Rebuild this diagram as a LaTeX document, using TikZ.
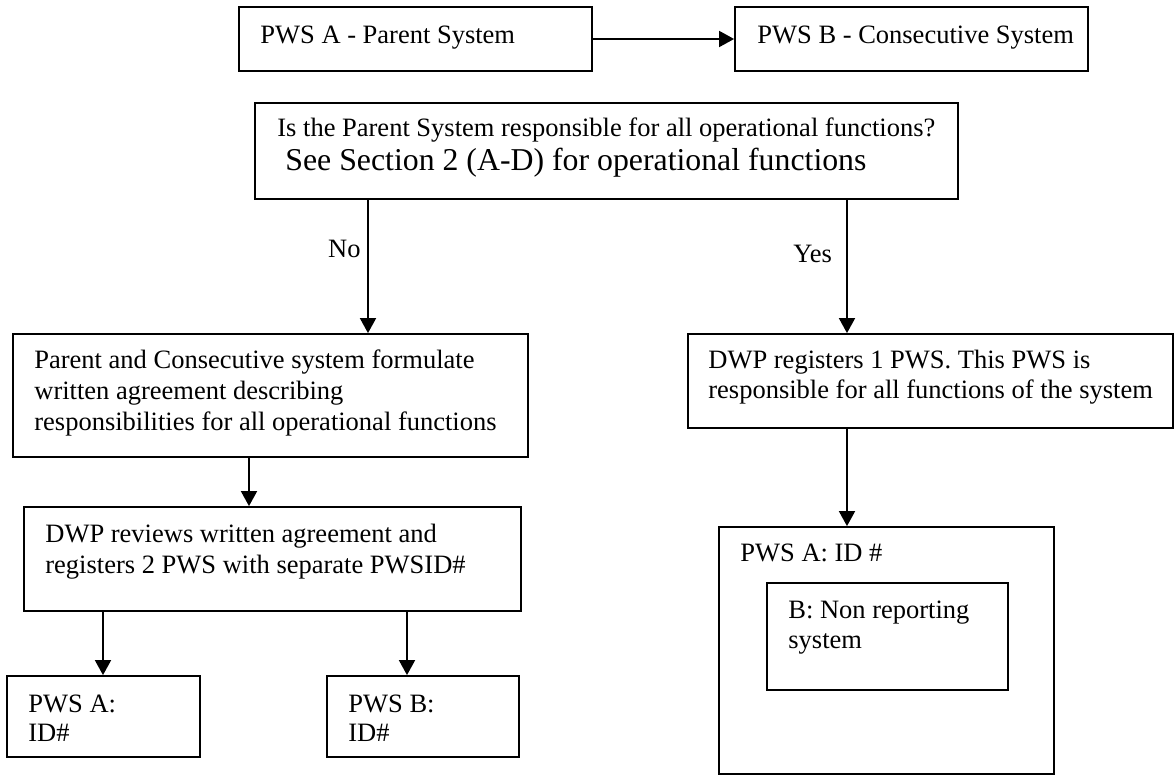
\documentclass[tikz,border=0pt]{standalone}
\usepackage{fontspec}
\setmainfont{Liberation Serif}
\usetikzlibrary{arrows.meta,fit}
\begin{document}
\begin{tikzpicture}[x=0.5pt,y=-0.5pt,
  box/.style={draw, line width=0.9pt, inner sep=0pt},
  txt/.style={anchor=base west, inner sep=0pt, font=\fontsize{13.25}{15.5}\selectfont},
  bigtxt/.style={anchor=base west, inner sep=0pt, font=\fontsize{15.9}{18}\selectfont},
  arr/.style={line width=0.9pt, -{Triangle[length=7.5pt,width=8pt]}}]
\useasboundingbox (0,0) rectangle (1175,775);
% boxes
\node[box, fit={(239,7)(592,71)}] (A) {};
\node[box, fit={(735,7)(1088,71)}] (B) {};
\node[box, fit={(255,103)(958,199)}] (Q) {};
\node[box, fit={(13,334)(528,457)}] (L2) {};
\node[box, fit={(688,334)(1173,428)}] (R2) {};
\node[box, fit={(24,507)(521,611)}] (L3) {};
\node[box, fit={(7,676)(200,757)}] (PA) {};
\node[box, fit={(327,676)(519,757)}] (PB) {};
\node[box, fit={(719,527)(1054,774)}] (BIG) {};
\node[box, fit={(767,583)(1008,690)}] (IN) {};
% texts
\node[txt] (tA) at (260,44) {PWS A - Parent System};
\node[txt] (tB) at (757,44) {PWS B - Consecutive System};
\node[txt] (tQ1) at (277,137) {Is the Parent System responsible for all operational functions?};
\node[bigtxt] (tQ2) at (285,171) {See Section 2 (A-D) for operational functions};
\node[txt] (tL2a) at (34,369) {Parent and Consecutive system formulate};
\node[txt] (tL2b) at (34,400) {written agreement describing};
\node[txt] (tL2c) at (34,431) {responsibilities for all operational functions};
\node[txt] (tR2a) at (708,369) {DWP registers 1 PWS. This PWS is};
\node[txt] (tR2b) at (708,399) {responsible for all functions of the system};
\node[txt] (tL3a) at (45,543) {DWP reviews written agreement and};
\node[txt] (tL3b) at (45,574) {registers 2 PWS with separate PWSID\#};
\node[txt] (tPAa) at (28,712) {PWS A:};
\node[txt] (tPAb) at (28,742) {ID\#};
\node[txt] (tPBa) at (348,712) {PWS B:};
\node[txt] (tPBb) at (348,742) {ID\#};
\node[txt] (tBIG) at (740,562) {PWS A: ID \#};
\node[txt] (tINa) at (788,619) {B: Non reporting};
\node[txt] (tINb) at (788,649) {system};
% connector x positions
\coordinate (xno) at (368,0);
\coordinate (xyes) at (847,0);
\coordinate (xl3) at (249,0);
\coordinate (xpa) at (103,0);
\coordinate (xpb) at (407,0);
% connectors
\draw[arr] (A.east) -- (B.west);
\draw[arr] (Q.south -| xno) -- (L2.north -| xno);
\draw[arr] (Q.south -| xyes) -- (R2.north -| xyes);
\draw[arr] (L2.south -| xl3) -- (L3.north -| xl3);
\draw[arr] (L3.south -| xpa) -- (PA.north -| xpa);
\draw[arr] (L3.south -| xpb) -- (PB.north -| xpb);
\draw[arr] (R2.south -| xyes) -- (BIG.north -| xyes);
% labels
\node[txt, anchor=base east] (no) at (361,258) {No};
\node[txt] (yes) at (793,263) {Yes};
\end{tikzpicture}
\end{document}
